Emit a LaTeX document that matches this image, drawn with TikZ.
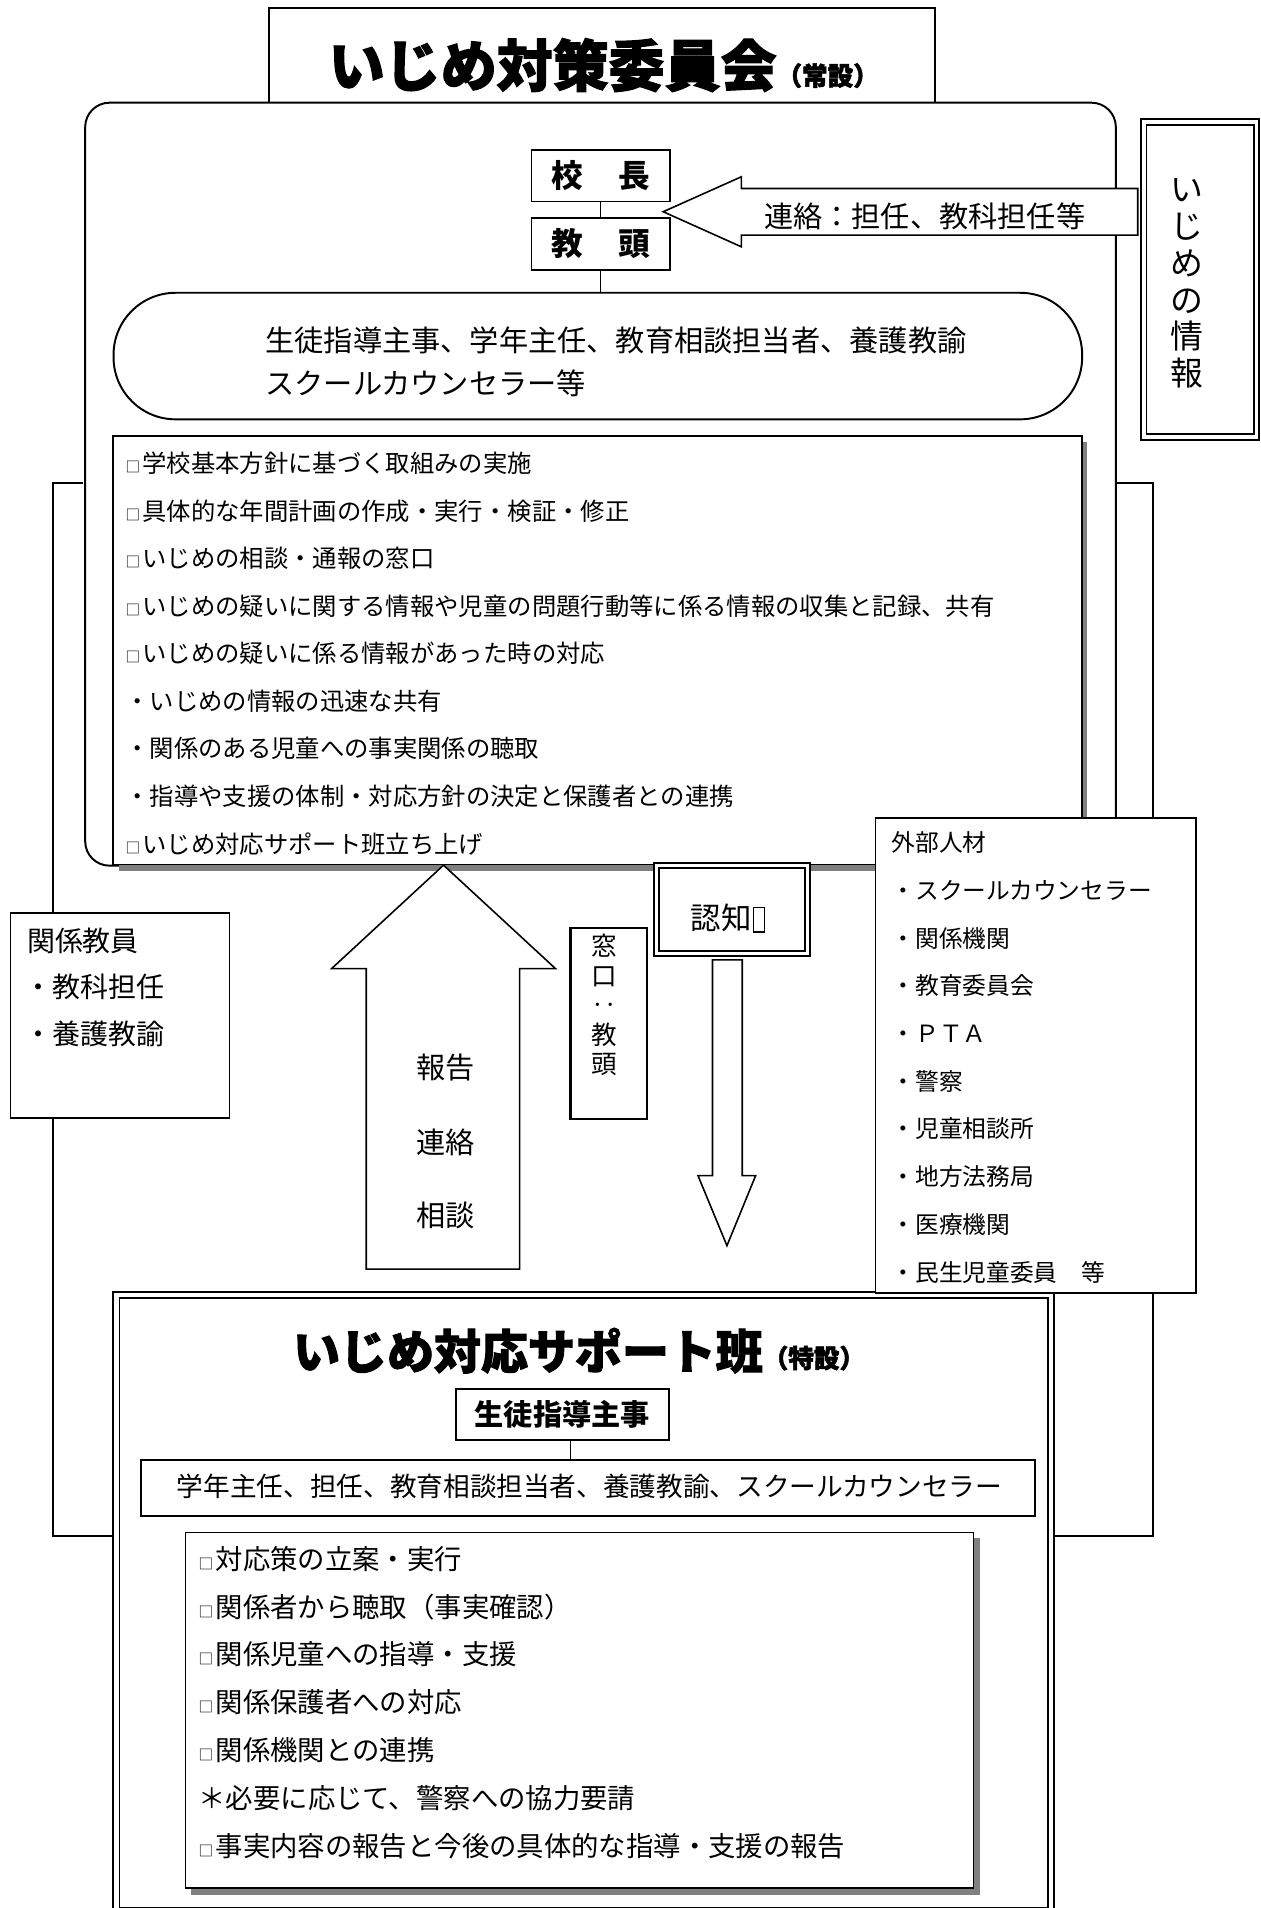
\documentclass[tikz,border=0pt]{standalone}
\usepackage{fontspec}
\setmainfont{Noto Sans CJK JP}
\newfontfamily\heavyfont[FakeBold=2]{Noto Sans CJK JP}
\newcommand{\fsz}[1]{\fontsize{#1}{#1}\selectfont}
\newcommand{\boxmark}{{\fsz{12}□}\hspace{2pt}}
\usetikzlibrary{calc}
\tikzset{
  ln/.style={draw=black, line width=1.6pt},
  thinln/.style={draw=black, line width=1pt},
  boxn/.style={draw=black, line width=1.6pt, fill=white, inner sep=0pt, anchor=north west},
  dbl/.style={draw=black, double=white, double distance=3pt, line width=1.3pt, fill=white, inner sep=0pt, anchor=north west},
  txt/.style={inner sep=0pt, anchor=west},
  ctxt/.style={inner sep=0pt},
  shade/.style={fill=black!50, draw=none},
  blockarrow/.style={draw=black, line width=1.3pt, fill=white, line join=miter},
}
\begin{document}
\begin{tikzpicture}[x=1pt,y=-1pt]
\useasboundingbox (0,0) rectangle (1036,1568);
\fill[white] (0,0) rectangle (1036,1568);

% side brackets
\draw[ln] (68,396.6) -- (43.5,396.6) -- (43.5,1262) -- (93,1262);
\draw[ln] (916,396.6) -- (947.5,396.6) -- (947.5,1262) -- (862,1262);

% committee title box
\node[boxn, minimum width=547pt, minimum height=80pt] (titlebox) at (220.5,5.5) {};
\node[boxn, rounded corners=20pt, minimum width=847pt, minimum height=627pt] (committee) at (69.2,83.6) {};
\node[txt] (title) at (270,53.5) {\heavyfont\bfseries\fsz{46}いじめ対策委員会{\fsz{21}\raisebox{1pt}{（常設）}}};

% principal / vice principal
\node[boxn, minimum width=114pt, minimum height=42pt, font=\bfseries\fsz{26}] (kocho) at (436,122.8) {校\hspace{1.1em}長};
\node[boxn, minimum width=114pt, minimum height=42pt, font=\bfseries\fsz{26}] (kyoto) at (436,178.7) {教\hspace{1.1em}頭};
\draw[thinln] (kocho.south) -- (kyoto.north);

% staff stadium
\node[boxn, rounded corners=51pt, minimum width=796pt, minimum height=104pt] (staff) at (92.5,239.8) {};
\draw[thinln] (kyoto.south) -- (kyoto.south |- staff.north);
\node[txt, font=\fsz{24}] (staff1) at (218,279.6) {生徒指導主事、学年主任、教育相談担当者、養護教諭};
\node[txt, font=\fsz{24}] (staff2) at (218,315.2) {スクールカウンセラー等};

% task list
\fill[shade] (97.5,363) rectangle (893.5,715.5);
\node[boxn, line width=1.3pt, minimum width=796pt, minimum height=352pt] (tasks) at (92.3,357.7) {};
\foreach \t [count=\i] in {
  \boxmark 学校基本方針に基づく取組みの実施,
  \boxmark 具体的な年間計画の作成・実行・検証・修正,
  \boxmark いじめの相談・通報の窓口,
  \boxmark いじめの疑いに関する情報や児童の問題行動等に係る情報の収集と記録、共有,
  \boxmark いじめの疑いに係る情報があった時の対応,
  ・いじめの情報の迅速な共有,
  ・関係のある児童への事実関係の聴取,
  ・指導や支援の体制・対応方針の決定と保護者との連携,
  \boxmark いじめ対応サポート班立ち上げ}
  \node[txt, font=\fsz{20}] (task\i) at (103,{380.9+39.06*(\i-1)}) {\t};

% information arrow
\draw[blockarrow] (545,174) -- (609.2,145.3) -- (609.2,154.9) -- (935,154.9) -- (935,193.2) -- (609.2,193.2) -- (609.2,202.8) -- cycle;
\node[txt, font=\fsz{24}] (renraku) at (627.7,178.2) {連絡：担任、教科担任等};

% information box
\node[dbl, line width=1.5pt, minimum width=92.5pt, minimum height=258.8pt] (info) at (939.2,99.6) {};
\node[ctxt, font={\fontsize{27}{30.2}\selectfont}, align=center] (infotxt) at (975,233) {い\\じ\\め\\の\\情\\報};

% support team box
\node[dbl, double distance=4pt, minimum width=768pt, minimum height=506.4pt] (support) at (95,1063.6) {};
\node[txt] (stitle) at (240.7,1110) {\heavyfont\bfseries\fsz{38.6}いじめ対応サポート班{\fsz{21}\raisebox{1pt}{（特設）}}};
\node[boxn, minimum width=174.6pt, minimum height=41.8pt, font=\bfseries\fsz{24}] (shido) at (374,1140.6) {生徒指導主事};
\node[boxn, minimum width=734pt, minimum height=46pt] (members) at (115.4,1198.8) {};
\node[ctxt, font=\fsz{21.9}] (memberstxt) at (484.5,1221.8) {学年主任、担任、教育相談担当者、養護教諭、スクールカウンセラー};
\coordinate (shidolink) at ($(shido.south)+(6.7,0)$);
\draw[thinln] (shidolink) -- (shidolink |- members.north);

\fill[shade] (157,1264) rectangle (805.5,1557);
\node[boxn, line width=1.3pt, minimum width=647.5pt, minimum height=292pt] (slist) at (151.7,1258.7) {};
\foreach \t [count=\i] in {
  \boxmark 対応策の立案・実行,
  \boxmark 関係者から聴取（事実確認）,
  \boxmark 関係児童への指導・支援,
  \boxmark 関係保護者への対応,
  \boxmark 関係機関との連携,
  ＊必要に応じて、警察への協力要請,
  \boxmark 事実内容の報告と今後の具体的な指導・支援の報告}
  \node[txt, font=\fsz{22.5}] (stask\i) at (163,{1281+39.3*(\i-1)}) {\t};

% external resources
\node[boxn, line width=1.3pt, minimum width=263.7pt, minimum height=390.5pt] (ext) at (718.7,671.5) {};
\foreach \t [count=\i] in {
  外部人材,
  ・スクールカウンセラー,
  ・関係機関,
  ・教育委員会,
  ・ＰＴＡ,
  ・警察,
  ・児童相談所,
  ・地方法務局,
  ・医療機関,
  ・民生児童委員　等}
  \node[txt, font=\fsz{19.5}] (ext\i) at (732.5,{692.6+39.2*(\i-1)}) {\t};

% related teachers
\node[boxn, line width=1.3pt, minimum width=180pt, minimum height=168.6pt] (teachers) at (7.9,749.6) {};
\node[txt, font=\fsz{23}] (teach1) at (22,773) {関係教員};
\node[txt, font=\fsz{23}] (teach2) at (20,811.4) {・教科担任};
\node[txt, font=\fsz{23}] (teach3) at (20,849.7) {・養護教諭};

% up arrow
\draw[blockarrow] (364.5,711) -- (456.5,796) -- (427,796) -- (427,1042.9) -- (301,1042.9) -- (301,796) -- (272.5,796) -- cycle;
\node[ctxt, font=\fsz{24}] (hokoku) at (366,877.1) {報告};
\node[ctxt, font=\fsz{24}] (renraku2) at (366,938.8) {連絡};
\node[ctxt, font=\fsz{24}] (sodan) at (366,999) {相談};

% contact window
\node[boxn, line width=1.8pt, minimum width=63pt, minimum height=157.3pt] (madoguchi) at (468,761.4) {};
\node[ctxt, font={\fontsize{21}{24.2}\selectfont}, align=center] (madotxt) at (497,826) {窓\\口\\‥\\教\\頭};

% recognition
\node[dbl, line width=1.5pt, double distance=2.5pt, minimum width=124.5pt, minimum height=72.5pt] (ninchi) at (538.5,710.5) {};
\node[ctxt, font=\fsz{25}] (ninchitxt) at (592.7,754.4) {認知};
\draw[line width=1pt] (619.5,745.5) rectangle (628.5,766);

% down arrow
\draw[blockarrow] (585.5,788.8) -- (610,788.8) -- (610,966.1) -- (621,966.1) -- (597.4,1023.7) -- (573.6,966.1) -- (585.5,966.1) -- cycle;
\end{tikzpicture}
\end{document}
